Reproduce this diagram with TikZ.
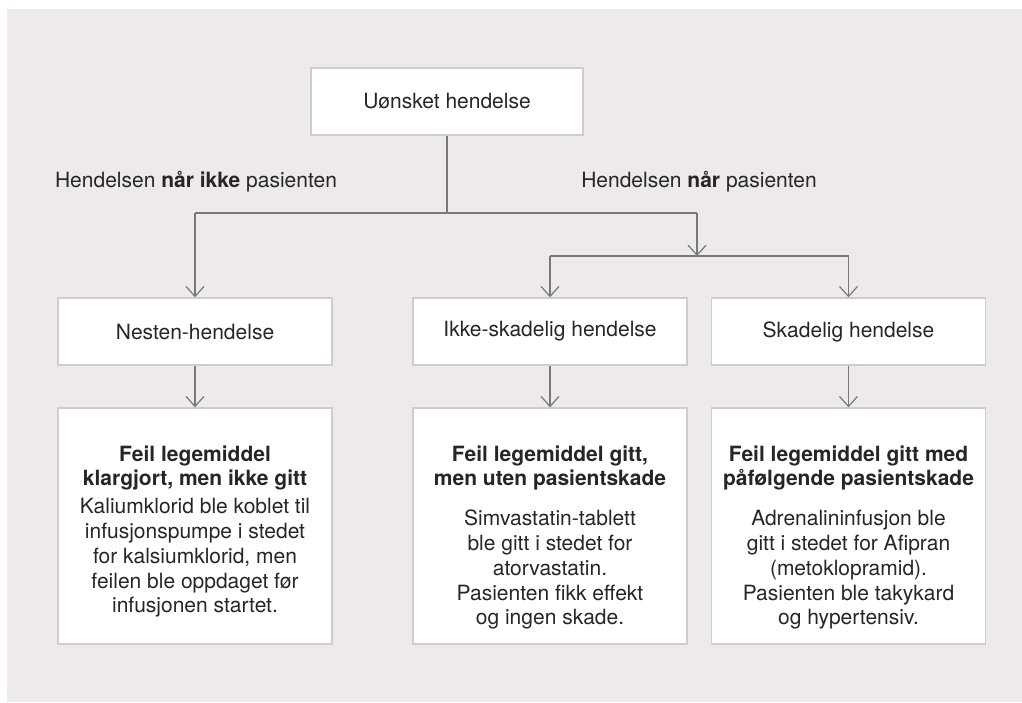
\documentclass[tikz,border=0pt]{standalone}
\usepackage{fontspec}
\setmainfont{TeX Gyre Heros}
\usetikzlibrary{arrows.meta}
\definecolor{bggrey}{RGB}{237,234,233}
\definecolor{boxgrey}{RGB}{206,205,205}
\definecolor{linegrey}{RGB}{120,120,120}
\definecolor{textgrey}{RGB}{38,38,38}
\begin{document}
\begin{tikzpicture}[x=0.5pt,y=-0.5pt,
		font=\fontsize{10.5}{12.4}\selectfont,
		box/.style={draw=boxgrey,fill=white,line width=0.7pt,minimum width=137pt,minimum height=33.5pt,inner sep=0pt,text=textgrey},
		bigbox/.style={box,minimum height=118pt},
		txt/.style={text=textgrey,align=center,inner sep=0pt},
		link/.style={draw=linegrey,line width=0.6pt},
		arr/.style={link,-{Straight Barb[length=5pt,width=9pt]}}]
		\useasboundingbox (0,0) rectangle (1022,702);
		\fill[bggrey] (7,9) rectangle (1022,702);
		\node[box,minimum width=136pt] (event) at (447,101.5) {Uønsket hendelse};
		\node[txt] (notreached) at (196,182) {Hendelsen \textbf{når ikke} pasienten};
		\node[txt] (reached) at (699,182) {Hendelsen \textbf{når} pasienten};
		\node[box] (near) at (195,331.5) {Nesten-hendelse};
		\node[box] (harmless) at (550,331.5) {Ikke-skadelig hendelse};
		\node[box] (harmful) at (848.5,331.5) {Skadelig hendelse};
		\node[bigbox] (nearex) at (195,526) {};
		\node[bigbox] (harmlessex) at (550,526) {};
		\node[bigbox] (harmfulex) at (848.5,526) {};
		\node[txt,anchor=north] (neartext) at (195,445) {\textbf{Feil legemiddel}\\\textbf{klargjort, men ikke gitt}\\[1.5pt]Kaliumklorid ble koblet til\\infusjonspumpe i stedet\\for kalsiumklorid, men\\feilen ble oppdaget før\\infusjonen startet.};
		\node[txt,anchor=north] (harmlesstext) at (550,445) {\textbf{Feil legemiddel gitt,}\\\textbf{men uten pasientskade}\\[7.5pt]Simvastatin-tablett\\ble gitt i stedet for\\atorvastatin.\\Pasienten fikk effekt\\og ingen skade.};
		\node[txt,anchor=north] (harmfultext) at (848.5,445) {\textbf{Feil legemiddel gitt med}\\\textbf{påfølgende pasientskade}\\[7.5pt]Adrenalininfusjon ble\\gitt i stedet for Afipran\\(metoklopramid).\\Pasienten ble takykard\\og hypertensiv.};
		\coordinate (split) at (447,213);
		\coordinate (splitl) at (195,213);
		\coordinate (splitr) at (697,213);
		\coordinate (fork) at (697,256);
		\coordinate (forkl) at (550,256);
		\coordinate (forkr) at (848.5,256);
		\draw[link] (event.south) -- (split);
		\draw[link] (splitl) -- (splitr);
		\draw[arr] (splitl) -- (near.north);
		\draw[arr] (splitr) -- (fork);
		\draw[link] (forkl) -- (forkr);
		\draw[arr] (forkl) -- (harmless.north);
		\draw[arr] (forkr) -- (harmful.north);
		\draw[arr] (near) -- (nearex);
		\draw[arr] (harmless) -- (harmlessex);
		\draw[arr] (harmful) -- (harmfulex);
	\end{tikzpicture}
\end{document}
